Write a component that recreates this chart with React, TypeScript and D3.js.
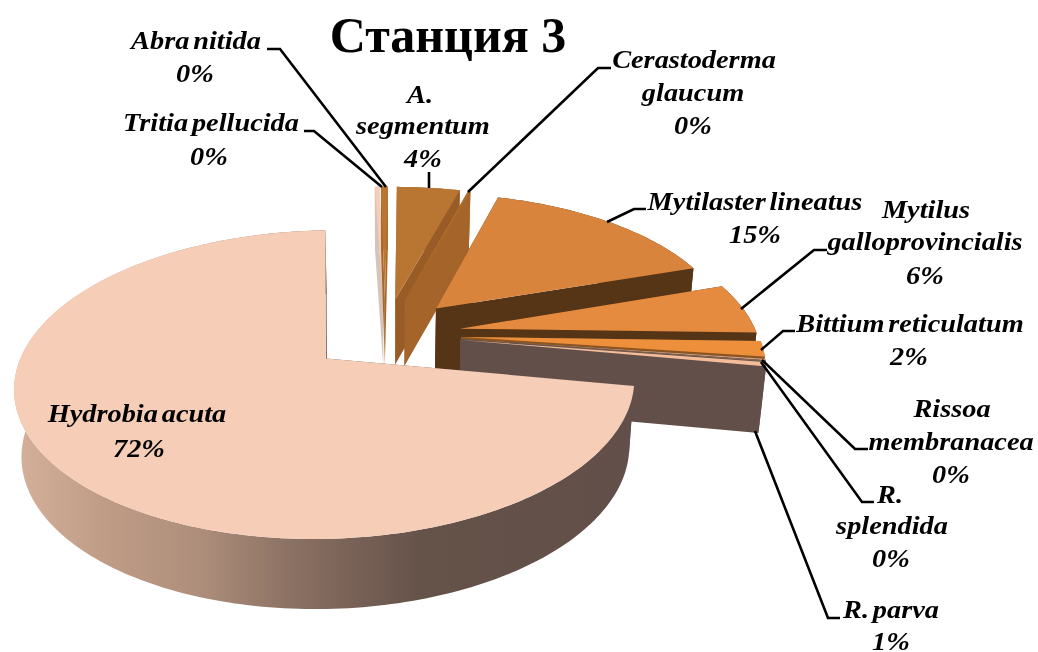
import React from "react";
import * as d3 from "d3";

const species = ["Tritia pellucida","Abra nitida","A. segmentum","Cerastoderma glaucum","Mytilaster lineatus","Mytilus galloprovincialis","Bittium reticulatum","Rissoa membranacea","R. splendida","R. parva","Hydrobia acuta"];
const shares = [0.3,0.45,4.1,0.15,15.4,5.6,1.7,0.15,0.1,0.45,71.6];
const topColors = ["#F6CDB7","#B97631","#B97631","#B06C2C","#D8843E","#E58B3F","#EE8F3A","#D9A27F","#8A6A55","#F4BC98","#F6CDB7"];
const cutColors = ["#D5C4BA","#A9682C","#9A5C26","#A5652B","#553518","#553518","#8A5520","#6E5346","#64504A","#64504A","#64504A"];

const labelLines: string[][] = [
  ["Tritia pellucida","0%"],["Abra nitida","0%"],["A.","segmentum","4%"],["Cerastoderma","glaucum","0%"],
  ["Mytilaster lineatus","15%"],["Mytilus","galloprovincialis","6%"],["Bittium reticulatum","2%"],
  ["Rissoa","membranacea","0%"],["R.","splendida","0%"],["R. parva","1%"],["Hydrobia acuta","72%"],
];
const labelX: number[][] = [[211,209],[196,195],[420,423,423],[694,693,693],[755,755],[926,925,925],[910,909],[952,951,951],[890,892,891],[891,891],[137,139]];
const labelY: number[][] = [[131,165],[49,82],[103,134,167],[68,101,134],[210,243],[218,250,284],[332,365],[417,450,483],[503,534,567],[618,650],[422,457]];
const leaders: [number,number][][] = [
  [[304,131],[314,131],[382,187]],
  [[267,49],[280,49],[386,187]],
  [[429,172],[429,188]],
  [[611,68],[598,68],[468,192]],
  [[646,209],[634,209],[607,222]],
  [[827,250],[814,250],[741,309]],
  [[795,331],[783,331],[761,350]],
  [[868,449],[855,449],[762,360]],
  [[874,502],[862,502],[761,362]],
  [[840,618],[828,618],[755,431]],
  [],
];

const CX = 385, CY = 334, R = 297, EXPLODE = 76, TILT = 0.4772, PERSP = 0.000556;
const DEPTH_Y = 66, SHRINK_X = 0.98, SHRINK_Y = 1.02;
const START = (-2 * Math.PI) / 180;

type P = [number, number];
const project = (px: number, py: number): P => {
  const w = 1 / (1 - PERSP * py);
  return [CX + px * w, CY + TILT * py * w];
};
const lower = ([x, y]: P): P => [CX + (x - CX) * SHRINK_X, CY + DEPTH_Y + (y - CY) * SHRINK_Y];

const pieGen = d3.pie<number>().sort(null).startAngle(START).endAngle(START + 2 * Math.PI);
const lineGen = d3.line<P>();
const closed = (pts: P[]) => (lineGen(pts) as string) + "Z";

const slices = pieGen(shares).map((a, i) => {
  const mid = (a.startAngle + a.endAngle) / 2;
  const ox = EXPLODE * Math.sin(mid), oy = -EXPLODE * Math.cos(mid);
  const n = Math.max(2, Math.ceil((a.endAngle - a.startAngle) / 0.02));
  const arcPts: P[] = d3.range(n + 1).map((k) => {
    const t = a.startAngle + ((a.endAngle - a.startAngle) * k) / n;
    return project(ox + R * Math.sin(t), oy - R * Math.cos(t));
  });
  const apex = project(ox, oy);
  const top = [apex, ...arcPts];
  const first = arcPts[0], last = arcPts[arcPts.length - 1];
  const cutA = [apex, first, lower(first), lower(apex)];
  const cutB = [apex, last, lower(last), lower(apex)];
  const wall = [...arcPts, ...arcPts.map(lower).reverse()];
  return { i, top: closed(top), cutA: closed(cutA), cutB: closed(cutB), wall: closed(wall) };
});

const gradStops: [number, string][] = [[0, "#D6B29C"], [0.15, "#BF9C86"], [0.3, "#AE8E7B"], [0.45, "#8A7062"], [0.65, "#65524A"], [1, "#63504A"]];
const SERIF = "'Liberation Serif','Times New Roman',serif";
const STRETCH = 1.09;

export default function App() {
  return (
    <svg width={1038} height={652} style={{ position: "fixed", left: 0, top: 0, background: "#fff" }}>
      <defs>
        <linearGradient id="wallGrad" gradientUnits="userSpaceOnUse" x1={10} x2={640} y1={0} y2={0}>
          {gradStops.map(([o, c]) => <stop key={o} offset={o} stopColor={c} />)}
        </linearGradient>
        <filter id="soft" x="0" y="0" width="100%" height="100%" filterUnits="objectBoundingBox">
          <feGaussianBlur stdDeviation={0.4} />
        </filter>
      </defs>
      <g filter="url(#soft)">
        <rect width={1038} height={652} fill="#fff" />
        {slices.map((s) => {
          const wallFill = s.i === shares.length - 1 ? "url(#wallGrad)" : cutColors[s.i];
          return (
            <g key={species[s.i]}>
              <path d={s.cutA} fill={cutColors[s.i]} />
              <path d={s.cutB} fill={cutColors[s.i]} />
              <path d={s.wall} fill={wallFill} />
              <path d={s.top} fill={topColors[s.i]} />
            </g>
          );
        })}
        {leaders.map((l, i) => l.length ? (
          <path key={i} d={lineGen(l) as string} fill="none" stroke="#000" strokeWidth={2.6} />
        ) : null)}
        <text x={448} y={52} textAnchor="middle" fontFamily={SERIF} fontWeight="bold" fontSize={50} fill="#000">Станция 3</text>
        {labelLines.map((lines, i) => lines.map((t, j) => (
          <text key={i + "-" + j} transform={`translate(${labelX[i][j]},${labelY[i][j]}) scale(${STRETCH},1)`} textAnchor="middle" fontFamily={SERIF}
            fontWeight="bold" fontStyle="italic" fontSize={26} wordSpacing={-3} fill="#000">{t}</text>
        )))}
      </g>
    </svg>
  );
}
